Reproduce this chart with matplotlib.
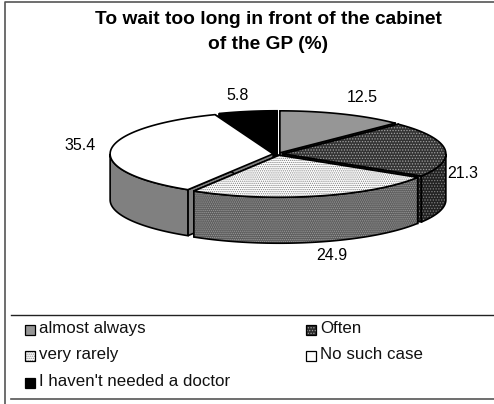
import numpy as np
import matplotlib
matplotlib.use('Agg')
import matplotlib.pyplot as plt
from matplotlib.patches import Polygon, Rectangle

plt.rcParams['font.family'] = ['Liberation Sans', 'DejaVu Sans']

categories = ['almost always', 'Often', 'very rarely', 'No such case', "I haven't needed a doctor"]
values = [12.5, 21.3, 24.9, 35.4, 5.8]
title = 'To wait too long in front of the cabinet\nof the GP (%)'

top_face = ['#969696', '#333333', 'white', 'white', 'black']
top_hatch = [None, '......', '........', None, None]
top_hatch_col = [None, '#a0a0a0', '#808080', None, None]
wall_face = ['#808080', '#222222', '#5e5e5e', '#808080', 'black']
wall_hatch = [None, '......', '........', None, None]
wall_hatch_col = [None, '#808080', '#9a9a9a', None, None]

# label anchors in picture pixels
label_x = [362, 463, 332, 80, 238]
label_y = [97, 173, 255, 145, 96]

cx, cy = 278, 154
rx, ry = 163, 42
depth = 46
explode = 0.03

fig = plt.figure(figsize=(4.94, 4.04), dpi=100)
ax = fig.add_axes([0, 0, 1, 1])
ax.set_xlim(0, 494)
ax.set_ylim(404, 0)
ax.axis('off')

plt.rcParams['hatch.linewidth'] = 0.6


def rim(t, ox, oy, dz=0):
    return np.column_stack([ox + rx * np.sin(t), oy - ry * np.cos(t) + dz])


def poly(pts, face, hatch=None, hatch_col=None, z=2):
    # fill + hatch first, black outline on top of it
    if hatch:
        ax.add_patch(Polygon(pts, closed=True, facecolor=face, edgecolor=hatch_col,
                             hatch=hatch, linewidth=0, zorder=z))
    else:
        ax.add_patch(Polygon(pts, closed=True, facecolor=face, edgecolor='none', zorder=z))
    ax.add_patch(Polygon(pts, closed=True, facecolor='none', edgecolor='black',
                         linewidth=1.2, zorder=z))


fracs = np.array(values) / sum(values)
ends = np.cumsum(fracs) * 2 * np.pi
starts = ends - fracs * 2 * np.pi

# back to front
order = [4, 0, 1, 3, 2]
for n, i in enumerate(order):
    a, b = starts[i], ends[i]
    m = (a + b) / 2
    ox = cx + explode * rx * np.sin(m)
    oy = cy - explode * ry * np.cos(m)
    z = 2 + n

    # cut faces
    for t in (a, b):
        p = rim(np.array([t]), ox, oy)[0]
        q = np.array([ox, oy])
        face = np.array([q, p, p + [0, depth], q + [0, depth]])
        poly(face, wall_face[i], wall_hatch[i], wall_hatch_col[i], z)

    # outer wall, only the front half of the rim is seen
    lo, hi = max(a, np.pi / 2), min(b, 3 * np.pi / 2)
    if hi > lo:
        t = np.linspace(lo, hi, 80)
        pts = np.vstack([rim(t, ox, oy), rim(t[::-1], ox, oy, depth)])
        poly(pts, wall_face[i], wall_hatch[i], wall_hatch_col[i], z)

    # top
    t = np.linspace(a, b, 120)
    pts = np.vstack([[ox, oy], rim(t, ox, oy)])
    poly(pts, top_face[i], top_hatch[i], top_hatch_col[i], z)

for v, x, y in zip(values, label_x, label_y):
    ax.text(x, y, f'{v:.1f}', ha='center', va='center', fontsize=11.5, color='black', zorder=20)

ax.text(268, 32, title, ha='center', va='center', fontsize=13.8, fontweight='bold',
        linespacing=1.6, color='black')

# frame and legend box
ax.plot([5, 5, 494], [404, 1.5, 1.5], color='#555555', lw=1.2)
ax.plot([11, 494], [315, 315], color='#222222', lw=1.0)
ax.plot([11, 494], [399, 399], color='#555555', lw=1.2)

leg_x = [25, 306, 25, 306, 25]
leg_y = [330, 330, 356, 356, 383]
leg_face = ['#969696', '#2a2a2a', 'white', 'white', 'black']
leg_hatch = [None, '......', '........', None, None]
leg_hatch_col = [None, '#a0a0a0', '#808080', None, None]
for i, name in enumerate(categories):
    ax.add_patch(Rectangle((leg_x[i], leg_y[i] - 5), 10, 10, facecolor=leg_face[i],
                           edgecolor=leg_hatch_col[i] or 'black', hatch=leg_hatch[i], linewidth=0))
    ax.add_patch(Rectangle((leg_x[i], leg_y[i] - 5), 10, 10, facecolor='none',
                           edgecolor='black', linewidth=0.9))
    ax.text(leg_x[i] + 14, leg_y[i] - 1.5, name, ha='left', va='center', fontsize=12.2, color='#111111')

fig.savefig('out.png', dpi=100)
